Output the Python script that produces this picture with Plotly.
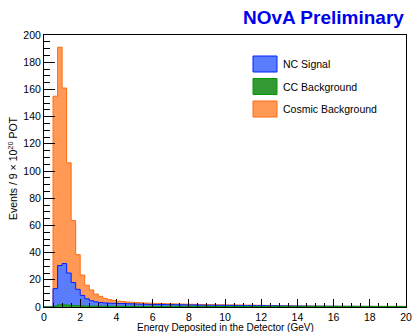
import numpy as np
import plotly.graph_objects as go

# Histogram binning (GeV)
bin_width = 0.25
bin_edges = np.arange(0, 20 + bin_width / 2, bin_width)

# Per-bin event counts (80 bins, 0-20 GeV)
cc_background = [
    0, 0, 0.6, 1.6, 1.6, 1.3, 1.1, 0.9, 0.8, 0.7,
    0.7, 0.6, 0.6, 0.6, 0.6, 0.5, 0.5, 0.5, 0.5, 0.5,
    0.5, 0.5, 0.5, 0.5, 0.5, 0.5, 0.5, 0.5, 0.5, 0.5,
    0.5, 0.5, 0.5, 0.5, 0.4, 0.4, 0.4, 0.4, 0.4, 0.4,
    0.4, 0.4, 0.4, 0.4, 0.4, 0.4, 0.4, 0.4, 0.4, 0.4,
    0.4, 0.4, 0.3, 0.3, 0.3, 0.3, 0.3, 0.3, 0.3, 0.3,
    0.3, 0.3, 0.3, 0.3, 0.3, 0.3, 0.3, 0.3, 0.3, 0.3,
    0.3, 0.3, 0.3, 0.3, 0.3, 0.3, 0.3, 0.3, 0.3, 0.3,
]
nc_signal = [
    0, 0, 12.9, 28.9, 30.4, 23.7, 16.9, 12.1, 7.7, 5.3,
    3.9, 3.2, 2.7, 2.4, 2.2, 2.2, 2.1, 2.0, 1.9, 1.8,
    1.7, 1.6, 1.5, 1.4, 1.35, 1.3, 1.3, 1.25, 1.2, 1.15,
    1.1, 1.1, 1.0, 1.0, 1.0, 0.95, 0.9, 0.9, 0.85, 0.85,
    0.8, 0.8, 0.75, 0.75, 0.7, 0.7, 0.65, 0.6, 0.6, 0.55,
    0.5, 0.5, 0.5, 0.45, 0.45, 0.4, 0.4, 0.35, 0.35, 0.3,
    0.3, 0.3, 0.25, 0.25, 0.25, 0.2, 0.2, 0.2, 0.2, 0.15,
    0.15, 0.15, 0.15, 0.1, 0.1, 0.1, 0.1, 0.1, 0.1, 0.1,
]
cosmic_background = [
    0, 0, 141.5, 160.5, 129.0, 81.0, 45.5, 25.5, 15.0, 10.0,
    7.9, 5.7, 4.5, 3.3, 2.6, 2.1, 1.7, 1.5, 1.3, 1.2,
    1.1, 1.0, 0.9, 0.9, 0.8, 0.75, 0.7, 0.65, 0.6, 0.6,
    0.55, 0.5, 0.5, 0.45, 0.45, 0.4, 0.4, 0.4, 0.35, 0.35,
    0.3, 0.3, 0.3, 0.3, 0.25, 0.25, 0.25, 0.25, 0.2, 0.2,
    0.2, 0.2, 0.15, 0.15, 0.15, 0.15, 0.1, 0.1, 0.1, 0.1,
    0.1, 0.05, 0.05, 0.05, 0.05, 0.05, 0.05, 0.05, 0.05, 0.05,
    0.05, 0.05, 0.05, 0.05, 0.05, 0.05, 0.05, 0.05, 0.05, 0.05,
]

series_names = ["NC Signal", "CC Background", "Cosmic Background"]
fill_colors = {"NC Signal": "#5a7dff", "CC Background": "#339933", "Cosmic Background": "#ff9955"}
line_colors = {"NC Signal": "#0022ff", "CC Background": "#009900", "Cosmic Background": "#ff6a10"}

cc = np.array(cc_background)
nc = np.array(nc_signal)
cos = np.array(cosmic_background)

# Stacked levels (as in a THStack: CC at bottom, NC above, cosmics on top)
stack_levels = [
    ("Cosmic Background", cc + nc + cos),
    ("NC Signal", cc + nc),
    ("CC Background", cc),
]

fig = go.Figure()
for name, vals in stack_levels:
    ys = np.append(vals, vals[-1])
    fig.add_trace(go.Scatter(
        x=bin_edges, y=ys, mode="lines", line_shape="hv",
        line=dict(color=line_colors[name], width=1),
        fill="tozeroy", fillcolor=fill_colors[name],
        name=name, showlegend=False, hoverinfo="skip",
    ))

W, H = 413, 332
L, R, T, B = 44, 406, 35, 307
pw, ph = R - L, B - T

def px_x(p):
    return (p - L) / pw

def px_y(p):
    return (B - p) / ph

FONT = "Liberation Sans, Arial, Helvetica, sans-serif"

# Manual legend (ROOT TLegend style, no box)
legend_rows = [("NC Signal", 64), ("CC Background", 86.5), ("Cosmic Background", 109)]
shapes = []
annotations = []
for name, cy in legend_rows:
    shapes.append(dict(type="rect", xref="paper", yref="paper",
                       x0=px_x(253), x1=px_x(277), y0=px_y(cy + 8), y1=px_y(cy - 8),
                       fillcolor=fill_colors[name], line=dict(color=line_colors[name], width=1)))
    annotations.append(dict(xref="paper", yref="paper", x=px_x(281), y=px_y(cy),
                            xanchor="left", yanchor="middle", showarrow=False,
                            text=name, font=dict(family=FONT, size=10.5, color="black")))

annotations.append(dict(xref="paper", yref="paper", x=px_x(406), y=px_y(17.5),
                        xanchor="right", yanchor="middle", showarrow=False,
                        text="<b>NOvA Preliminary</b>",
                        font=dict(family=FONT, size=19, color="#0000ee")))

# Axis titles
annotations.append(dict(xref="paper", yref="paper", x=px_x(225), y=px_y(327.5),
                        xanchor="center", yanchor="middle", showarrow=False,
                        text="Energy Deposited in the Detector (GeV)",
                        font=dict(family=FONT, size=10, color="black")))
annotations.append(dict(xref="paper", yref="paper", x=px_x(12), y=px_y(168),
                        xanchor="center", yanchor="middle", showarrow=False, textangle=-90,
                        text="Events / 9 × 10<sup>20</sup> POT",
                        font=dict(family=FONT, size=10.5, color="black")))

fig.update_layout(
    width=W, height=H,
    margin=dict(l=L, r=W - R, t=T, b=H - B, pad=0, autoexpand=False),
    paper_bgcolor="white", plot_bgcolor="white",
    showlegend=False,
    shapes=shapes, annotations=annotations,
    font=dict(family=FONT, size=10.5, color="black"),
    xaxis=dict(
        range=[0, 20], showgrid=False, zeroline=False, automargin=False,
        showline=True, linecolor="black", linewidth=1, mirror=True,
        ticks="inside", ticklen=8, tickcolor="black", dtick=2, tick0=0,
        minor=dict(dtick=0.5, ticks="inside", ticklen=4, tickcolor="black", showgrid=False),
        tickfont=dict(family=FONT, size=10.5),
    ),
    yaxis=dict(
        range=[0, 200], showgrid=False, zeroline=False, automargin=False,
        showline=True, linecolor="black", linewidth=1, mirror=True,
        ticks="inside", ticklen=11, tickcolor="black", dtick=20, tick0=0,
        minor=dict(dtick=5, ticks="inside", ticklen=5.5, tickcolor="black", showgrid=False),
        tickfont=dict(family=FONT, size=10.5),
    ),
)

fig.write_html("out.html")
